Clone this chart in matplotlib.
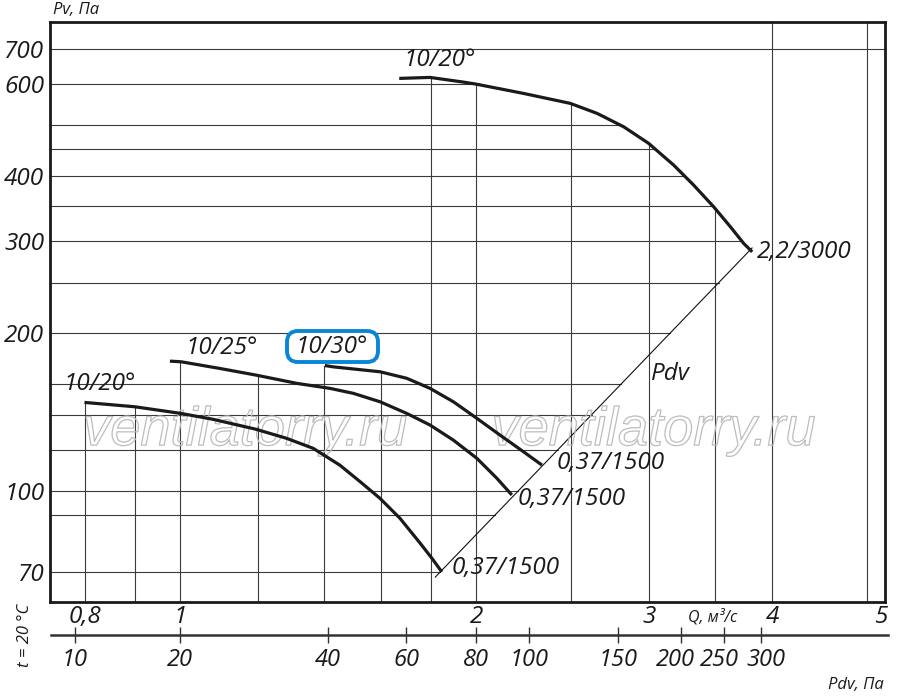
import numpy as np
import matplotlib
matplotlib.use("Agg")
import matplotlib.pyplot as plt
import matplotlib.patheffects as pe
import matplotlib.transforms as mtransforms
from matplotlib.patches import FancyBboxPatch

plt.rcParams['font.family'] = ['Open Sans', 'DejaVu Sans']
plt.rcParams['font.style'] = 'italic'

# ---- data (Q in m3/s, Pv in Pa) ----
# curve 10/20deg, 2.2 kW / 3000 rpm
qa = [1.670, 1.795, 1.941, 1.998, 2.234, 2.493, 2.654, 2.825, 2.995, 3.176,
      3.328, 3.488, 3.627, 3.742, 3.817]
pa = [614.1, 616.8, 604.2, 599.0, 574.9, 550.2, 526.6, 496.4, 461.5, 419.4,
      384.1, 349.1, 319.8, 297.2, 286.4]
# curve 10/30deg, 0.37 kW / 1500 rpm
qb = [1.403, 1.431, 1.597, 1.700, 1.795, 1.896, 2.003, 2.115, 2.234, 2.333]
pb = [173.7, 172.7, 169.0, 164.2, 157.1, 148.1, 137.7, 127.9, 118.9, 112.1]
# curve 10/25deg, 0.37 kW / 1500 rpm
qc = [0.976, 1.002, 1.097, 1.193, 1.314, 1.420, 1.500, 1.597, 1.700, 1.795,
      1.896, 2.003, 2.099, 2.174]
pc = [177.1, 176.6, 171.5, 166.6, 160.6, 157.1, 153.7, 148.1, 140.7, 133.7,
      125.1, 115.5, 105.8, 98.3]
# curve 10/20deg, 0.37 kW / 1500 rpm
qd = [0.799, 0.899, 1.002, 1.080, 1.193, 1.283, 1.365, 1.453, 1.524, 1.597,
      1.673, 1.754, 1.803, 1.845]
pd_ = [147.7, 144.9, 140.7, 137.1, 131.3, 126.1, 120.7, 112.1, 104.2, 96.8,
       88.7, 79.5, 74.4, 70.1]
# dynamic pressure line Pdv
pdv_line_q = [1.817, 3.816]
pdv_line_p = [68.5, 291.3]

x_grid = [0.8, 0.9, 1.0, 1.2, 1.4, 1.6, 1.8, 2.0, 2.5, 3.0, 3.5, 4.0, 5.0]
y_grid = [70, 90, 100, 120, 140, 160, 200, 250, 300, 350, 400, 450, 500, 600, 700]
x_ticks = [0.8, 1, 2, 3, 4, 5]
x_tick_labels = ['0,8', '1', '2', '3', '4', '5']
y_ticks = [70, 100, 200, 300, 400, 600, 700]
y_tick_labels = ['70', '100', '200', '300', '400', '600', '700']
pdv_ticks = ['10', '20', '40', '60', '80', '100', '150', '200', '250', '300']
pdv_tick_q = [0.781, 1.0, 1.412, 1.697, 2.0, 2.263, 2.788, 3.23, 3.57, 3.90]

XMIN, XMAX = 0.737, 5.21
YMIN, YMAX = 61.4, 787

fig = plt.figure(figsize=(9, 6.97), dpi=100)
ax = fig.add_axes([50/900, 95/697, 835/900, 580/697])
ax.set_xscale('log')
ax.set_yscale('log')
ax.set_xlim(XMIN, XMAX)
ax.set_ylim(YMIN, YMAX)

curves = [(qa, pa), (qb, pb), (qc, pc), (qd, pd_)]
gcol = '#3a3a3a'
glw = 0.8

# vertical grid lines: bottom -> upper envelope of the curves
for xg in x_grid:
    tops = []
    for q, p in curves:
        if q[0] - 0.01 <= xg <= q[-1]:
            tops.append(10 ** np.interp(np.log10(xg), np.log10(q), np.log10(p)))
    top = max(tops) if tops else YMAX
    ax.plot([xg, xg], [YMIN, top], color=gcol, lw=glw, zorder=1)

# horizontal grid lines: left frame -> outer boundary (curve A, then Pdv line)
for yg in y_grid:
    if yg > max(pa):
        right = XMAX
    elif yg >= pa[-1]:
        i0 = int(np.argmax(pa))
        qq = np.log10(qa[i0:])[::-1]
        pp = np.log10(pa[i0:])[::-1]
        right = 10 ** np.interp(np.log10(yg), pp, qq)
    else:
        right = 10 ** np.interp(np.log10(yg), np.log10(pdv_line_p), np.log10(pdv_line_q))
    ax.plot([XMIN, right], [yg, yg], color=gcol, lw=glw, zorder=1)

# Pdv line
ax.plot(pdv_line_q, pdv_line_p, color='#111111', lw=0.8, zorder=2)

# curves
for q, p in curves:
    ax.plot(q, p, color='#1a1a1a', lw=2.3, solid_capstyle='butt',
            solid_joinstyle='round', zorder=3)

# watermark (outline only)
for xw in (1.164, 3.029):
    ax.text(xw, 122.4, 'ventilatorry.ru', ha='center', va='baseline',
            fontsize=39, family=['Liberation Sans', 'DejaVu Sans'], style='italic',
            color='none', zorder=2.5,
            path_effects=[pe.Stroke(linewidth=0.9, foreground='#bdbdbd')])

# curve labels
lab_kw = dict(fontsize=17.5, color='#1a1a1a', va='center', ha='left', zorder=4)
ax.text(1.685, 666, '10/20°', **lab_kw)
ax.text(3.862, 286, '2,2/3000', **lab_kw)
ax.text(1.013, 187.6, '10/25°', **lab_kw)
ax.text(0.761, 160.1, '10/20°', **lab_kw)
ax.text(2.412, 113.1, '0,37/1500', **lab_kw)
ax.text(2.201, 96.5, '0,37/1500', **lab_kw)
ax.text(1.886, 71.3, '0,37/1500', **lab_kw)
ax.text(3.015, 167.3, 'Pdv', **lab_kw)
ax.text(1.425, 188.4, '10/30°', fontsize=17.5, color='#1a1a1a', va='center', ha='center',
        zorder=6)
box = FancyBboxPatch((287, 697 - 362), 91, 31,
                     boxstyle='round,pad=0,rounding_size=11',
                     transform=mtransforms.IdentityTransform(),
                     fc='white', ec='#0a86d6', lw=2.8, zorder=5, clip_on=False)
ax.add_patch(box)

# axes styling
for s in ax.spines.values():
    s.set_linewidth(2.0)
    s.set_color('#1a1a1a')
ax.set_xticks(x_ticks)
ax.set_xticklabels(x_tick_labels)
ax.set_yticks(y_ticks)
ax.set_yticklabels(y_tick_labels)
ax.xaxis.set_minor_locator(matplotlib.ticker.NullLocator())
ax.yaxis.set_minor_locator(matplotlib.ticker.NullLocator())
ax.tick_params(axis='both', length=0, labelsize=17.5, colors='#1a1a1a')
ax.tick_params(axis='x', pad=2)
ax.tick_params(axis='y', pad=4)
lbl5 = ax.get_xticklabels()[-1]
lbl5.set_transform(lbl5.get_transform() + mtransforms.ScaledTranslation(13/100, 0, fig.dpi_scale_trans))

ax.text(0.794, -0.026, 'Q, м³/с', transform=ax.transAxes, fontsize=11.5,
        ha='center', va='center', color='#1a1a1a')

# Pdv scale axis
ax2 = fig.add_axes([51/900, 1 - 635/697, 837/900, 0.0001])
ax2.set_xscale('log')
x2min = XMIN * 10 ** ((1/835) * np.log10(XMAX / XMIN))
x2max = XMIN * 10 ** ((838/835) * np.log10(XMAX / XMIN))
ax2.set_xlim(x2min, x2max)
ax2.set_facecolor('none')
for k in ('top', 'left', 'right'):
    ax2.spines[k].set_visible(False)
ax2.spines['bottom'].set_linewidth(1.8)
ax2.spines['bottom'].set_color('#333333')
ax2.set_yticks([])
ax2.set_xticks(pdv_tick_q)
ax2.set_xticklabels(pdv_ticks)
ax2.xaxis.set_minor_locator(matplotlib.ticker.NullLocator())
ax2.tick_params(axis='x', direction='inout', length=12, width=1.0, color='#333333',
                labelsize=17, labelcolor='#1a1a1a', pad=3)
shifts = {'200': -5, '250': -4, '300': 5}
for lab in ax2.get_xticklabels():
    if lab.get_text() in shifts:
        lab.set_transform(lab.get_transform() +
                          mtransforms.ScaledTranslation(shifts[lab.get_text()]/100, 0,
                                                        fig.dpi_scale_trans))

# outer texts
fig.text(53/900, 1 - 10/697, 'Pv, Па', fontsize=12, ha='left', va='center', color='#1a1a1a')
fig.text(884/900, 1 - 685/697, 'Pdv, Па', fontsize=12, ha='right', va='center', color='#1a1a1a')
fig.text(25/900, 1 - 635/697, 't = 20 °C', fontsize=12, rotation=90, ha='center', va='center',
         color='#1a1a1a')

fig.savefig('out.png', dpi=100)
